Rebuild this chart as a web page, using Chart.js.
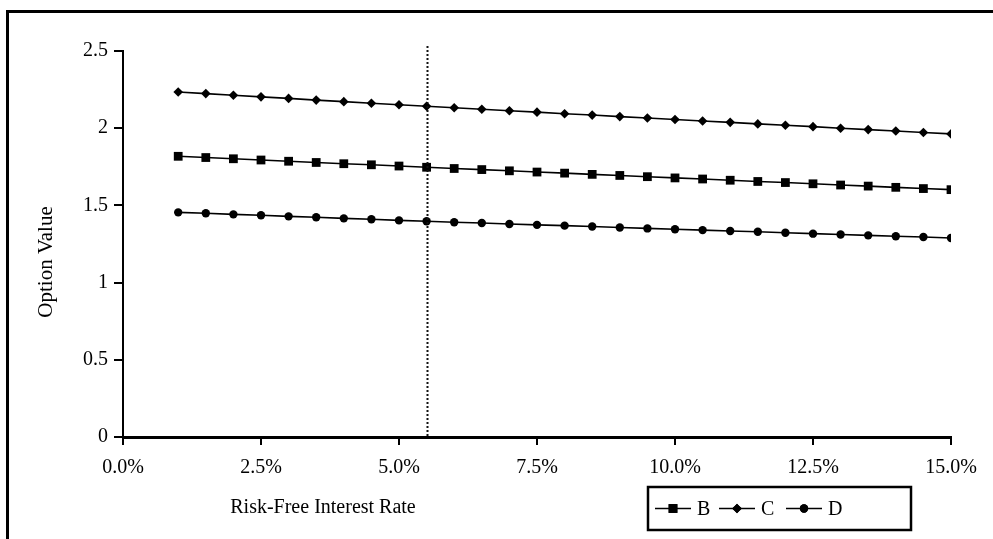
<!DOCTYPE html>
<html>
<head>
<meta charset="utf-8">
<script src="https://cdn.jsdelivr.net/npm/chart.js@4.4.0/dist/chart.umd.min.js"></script>
<style>
  html, body { margin: 0; padding: 0; background: #fff; overflow: hidden; }
  #wrap { position: relative; width: 993px; height: 539px; }
  #frame { position: absolute; left: 6px; top: 10px; width: 1000px; height: 560px;
           border-left: 3px solid #000; border-top: 3px solid #000; box-sizing: border-box; }
  #c { position: absolute; left: 0; top: 0; }
</style>
</head>
<body>
<div id="wrap">
  <div id="frame"></div>
  <canvas id="c" width="993" height="539"></canvas>
</div>
<script>
// Risk-free rate (%) for each computed point
const rates = [1.0, 1.5, 2.0, 2.5, 3.0, 3.5, 4.0, 4.5, 5.0, 5.5,
               6.0, 6.5, 7.0, 7.5, 8.0, 8.5, 9.0, 9.5, 10.0, 10.5,
               11.0, 11.5, 12.0, 12.5, 13.0, 13.5, 14.0, 14.5, 15.0];

// Option values for the three contracts
const valuesB = [1.818, 1.810, 1.802, 1.794, 1.786, 1.778, 1.770, 1.763, 1.755, 1.747,
                 1.739, 1.732, 1.724, 1.716, 1.709, 1.701, 1.694, 1.686, 1.678, 1.671,
                 1.663, 1.655, 1.648, 1.640, 1.632, 1.625, 1.617, 1.609, 1.602];
const valuesC = [2.234, 2.224, 2.213, 2.203, 2.193, 2.182, 2.172, 2.162, 2.152, 2.142,
                 2.132, 2.123, 2.113, 2.104, 2.094, 2.085, 2.075, 2.066, 2.056, 2.047,
                 2.038, 2.028, 2.019, 2.010, 2.000, 1.991, 1.982, 1.972, 1.963];
const valuesD = [1.455, 1.449, 1.442, 1.436, 1.429, 1.423, 1.416, 1.410, 1.403, 1.397,
                 1.391, 1.386, 1.380, 1.374, 1.369, 1.363, 1.357, 1.351, 1.346, 1.340,
                 1.334, 1.329, 1.323, 1.317, 1.312, 1.306, 1.300, 1.295, 1.289];

const seriesNames = ['B', 'C', 'D'];
const currentRate = 5.5;           // reference rate marked with the dotted line
const xTicks = [0, 2.5, 5, 7.5, 10, 12.5, 15];
const yTicks = [0, 0.5, 1, 1.5, 2, 2.5];

const FONT = '"Liberation Serif", "Times New Roman", serif';
const FS = 20;

function toPoints(vals) { return rates.map((r, i) => ({ x: r, y: vals[i] })); }

const styles = [
  { pointStyle: 'rect', radius: 6.2 },
  { pointStyle: 'rectRot', radius: 4.8 },
  { pointStyle: 'circle', radius: 4.2 }
];

const datasets = [valuesB, valuesC, valuesD].map((vals, i) => ({
  label: seriesNames[i],
  data: toPoints(vals),
  borderColor: '#000',
  backgroundColor: '#000',
  borderWidth: 1.6,
  pointStyle: styles[i].pointStyle,
  pointRadius: styles[i].radius,
  pointBorderWidth: 0,
  pointBackgroundColor: '#000',
  tension: 0
}));

// Dotted vertical marker, axis titles and boxed legend
const annotate = {
  id: 'annotate',
  afterDatasetsDraw(chart) {
    const ctx = chart.ctx;
    const xs = chart.scales.x;
    const ca = chart.chartArea;

    // dotted line at the current rate
    ctx.save();
    const px = Math.round(xs.getPixelForValue(currentRate)) + 0.5;
    ctx.strokeStyle = '#111';
    ctx.lineWidth = 2;
    ctx.setLineDash([2, 2]);
    ctx.beginPath();
    ctx.moveTo(px, ca.top - 5);
    ctx.lineTo(px, ca.bottom);
    ctx.stroke();
    ctx.restore();
  },
  afterDraw(chart) {
    const ctx = chart.ctx;
    const ca = chart.chartArea;
    ctx.save();
    ctx.fillStyle = '#000';
    ctx.font = FS + 'px ' + FONT;
    ctx.textBaseline = 'middle';
    ctx.textAlign = 'center';

    // x axis title
    ctx.fillText('Risk-Free Interest Rate', 323, 508);

    // y axis title
    ctx.save();
    ctx.translate(46, 262);
    ctx.rotate(-Math.PI / 2);
    ctx.font = '21px ' + FONT;
    ctx.fillText('Option Value', 0, 0);
    ctx.restore();

    // legend box
    const bx = 648, by = 487, bw = 263, bh = 43;
    ctx.strokeStyle = '#000';
    ctx.lineWidth = 2.5;
    ctx.strokeRect(bx, by, bw, bh);

    const cy = by + bh / 2;
    const itemStarts = [655, 719, 786];
    chart.data.datasets.forEach((ds, i) => {
      const x0 = itemStarts[i];
      ctx.strokeStyle = '#000';
      ctx.lineWidth = 1.6;
      ctx.beginPath();
      ctx.moveTo(x0, cy);
      ctx.lineTo(x0 + 36, cy);
      ctx.stroke();
      Chart.helpers.drawPoint(ctx, {
        pointStyle: ds.pointStyle,
        radius: ds.pointRadius,
        borderWidth: 0
      }, x0 + 18, cy);
      ctx.fill();
      ctx.textAlign = 'left';
      ctx.fillText(ds.label, x0 + 42, cy + 1);
    });
    ctx.restore();
  }
};

new Chart(document.getElementById('c'), {
  type: 'line',
  data: { datasets },
  options: {
    responsive: false,
    animation: false,
    devicePixelRatio: 1,
    layout: { padding: { left: 0, right: 42, top: 51, bottom: 0 } },
    plugins: { legend: { display: false }, tooltip: { enabled: false } },
    scales: {
      x: {
        type: 'linear',
        min: 0, max: 15,
        afterBuildTicks(scale) { scale.ticks = xTicks.map(v => ({ value: v })); },
        afterFit(scale) { scale.height = 102; },
        ticks: {
          color: '#000',
          font: { family: FONT, size: FS },
          padding: 11,
          maxRotation: 0,
          callback: v => v.toFixed(1) + '%'
        },
        grid: { drawOnChartArea: false, drawTicks: true, tickLength: 8, color: '#000', lineWidth: 2 },
        border: { display: true, color: '#000', width: 3 }
      },
      y: {
        type: 'linear',
        min: 0, max: 2.5,
        afterBuildTicks(scale) { scale.ticks = yTicks.map(v => ({ value: v })); },
        afterFit(scale) { scale.width = 123; },
        ticks: {
          color: '#000',
          font: { family: FONT, size: FS },
          padding: 6,
          callback: v => String(v)
        },
        grid: { drawOnChartArea: false, drawTicks: true, tickLength: 9, color: '#000', lineWidth: 2 },
        border: { display: true, color: '#000', width: 2 }
      }
    }
  },
  plugins: [annotate]
});
</script>
</body>
</html>
